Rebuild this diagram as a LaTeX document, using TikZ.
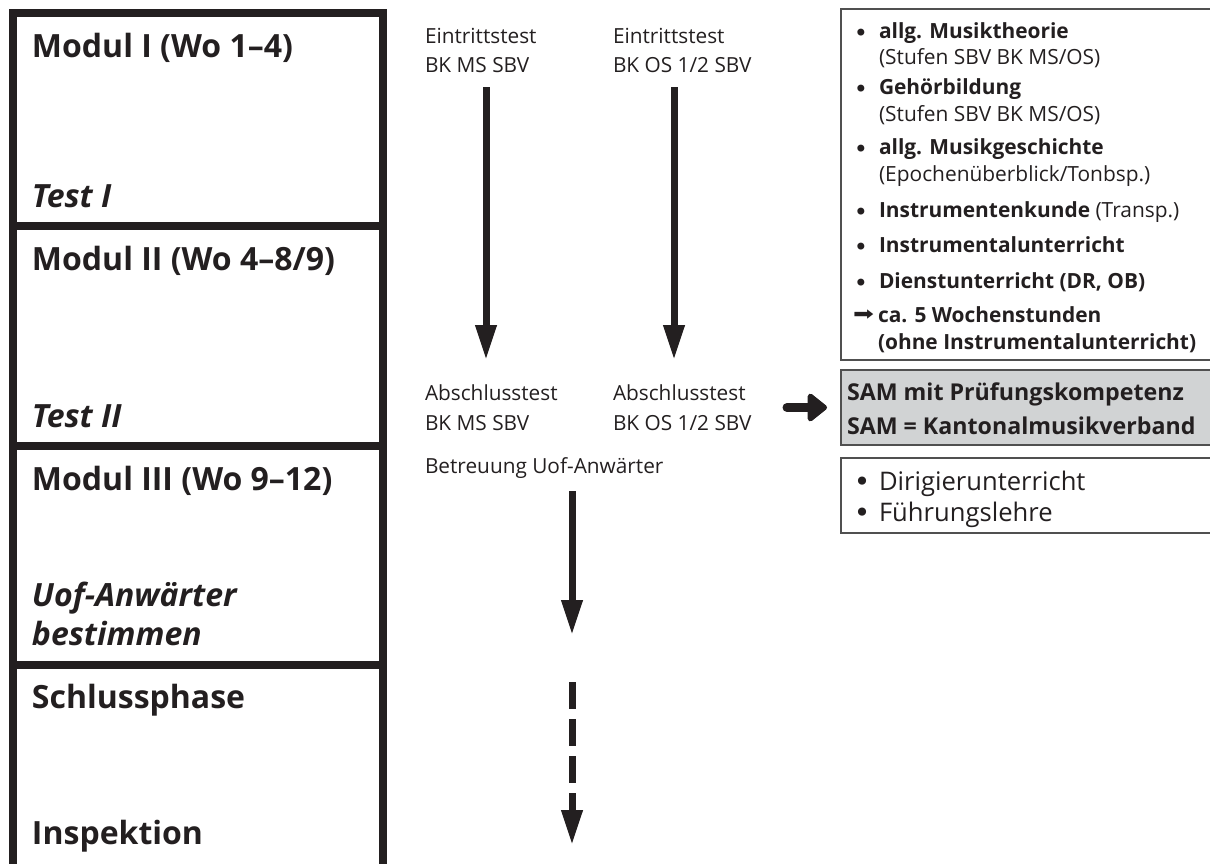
\documentclass[tikz,border=0pt]{standalone}
\usepackage{fontspec}
\usepackage{graphicx}
\setmainfont{Open Sans}
\newfontfamily\symfont{DejaVu Sans}
\usetikzlibrary{arrows.meta}

\definecolor{ink}{HTML}{231F20}
\definecolor{boxline}{HTML}{505050}
\definecolor{samgray}{HTML}{D1D3D4}

\begin{document}
\begin{tikzpicture}[x=0.5pt,y=-0.5pt,
  every node/.style={inner sep=0pt,outer sep=0pt,anchor=base west,text=ink},
  frame/.style={draw=ink,line width=4pt},
  head/.style={font=\fontsize{16}{19}\selectfont\bfseries},
  headit/.style={font=\fontsize{16}{19}\selectfont\bfseries\itshape},
  mid/.style={font=\fontsize{10.4}{13}\selectfont},
  lst/.style={font=\fontsize{10.45}{13}\selectfont},
  lstb/.style={font=\fontsize{10.45}{13}\selectfont\bfseries},
  dot/.style={anchor=base,font=\symfont\fontsize{12}{14}\selectfont},
  bigdot/.style={anchor=base,font=\symfont\fontsize{14}{16}\selectfont},
  samtxt/.style={font=\fontsize{11.6}{14}\selectfont\bfseries},
  dirtxt/.style={font=\fontsize{12.8}{15}\selectfont},
  panel/.style={draw=boxline,line width=0.9pt,anchor=north west,minimum width=190pt},
  flow/.style={draw=ink,line width=3.5pt,-{Triangle[width=10pt,length=17.5pt]}},
  bigarrow/.style={draw=ink,line width=4.5pt,line cap=round,-{Triangle[width=16pt,length=10.5pt,round]}}]

\useasboundingbox (0,0) rectangle (1210,863);

% ---------- left column: phases ----------
\draw[frame] (13,880) -- (13,13) -- (383,13) -- (383,880);
\draw[frame] (13,226) -- (383,226);
\draw[frame] (13,446) -- (383,446);
\draw[frame] (13,665) -- (383,665);

\node[head]   (m1)  at (32,57)  {Modul I (Wo 1–4)};
\node[headit] (t1)  at (32,207) {Test I};
\node[head]   (m2)  at (32,270) {Modul II (Wo 4–8/9)};
\node[headit] (t2)  at (32,427) {Test II};
\node[head]   (m3)  at (32,490) {Modul III (Wo 9–12)};
\node[headit] (u1)  at (32,606) {Uof-Anwärter};
\node[headit] (u2)  at (32,645) {bestimmen};
\node[head]   (s1)  at (32,708) {Schlussphase};
\node[head]   (ins) at (32,844) {Inspektion};

% ---------- middle: tests ----------
\node[mid] (ea1) at (425,43)  {Eintrittstest};
\node[mid] (ea2) at (425,72)  {BK MS SBV};
\node[mid] (eb1) at (613,43)  {Eintrittstest};
\node[mid] (eb2) at (613,72)  {BK OS 1/2 SBV};
\node[mid] (aa1) at (425,400) {Abschlusstest};
\node[mid] (aa2) at (425,430) {BK MS SBV};
\node[mid] (ab1) at (613,400) {Abschlusstest};
\node[mid] (ab2) at (613,430) {BK OS 1/2 SBV};
\node[mid] (bu)  at (425,473) {Betreuung Uof-Anwärter};

\coordinate (fa0) at (486,87);  \coordinate (fa1) at (486,360);
\coordinate (fb0) at (674,87);  \coordinate (fb1) at (674,360);
\coordinate (fc0) at (572,491); \coordinate (fc1) at (572,635);
\coordinate (fd0) at (572,682); \coordinate (fd1) at (572,845);

\draw[flow] (fa0) -- (fa1);
\draw[flow] (fb0) -- (fb1);
\draw[flow] (fc0) -- (fc1);
\draw[flow,dash pattern=on 13.5pt off 5pt] (fd0) -- (fd1);

% ---------- right: subject list ----------
\node[panel,minimum height=175.5pt] (subj) at (841,9) {};

\node[dot]  (bl1) at (861,41) {•};
\node[lstb] (l1)  at (879,38) {allg. Musiktheorie};
\node[lst]  (l2)  at (879,64) {(Stufen SBV BK MS/OS)};
\node[dot]  (bl2) at (861,97) {•};
\node[lstb] (l3)  at (879,94) {Gehörbildung};
\node[lst]  (l4)  at (879,121) {(Stufen SBV BK MS/OS)};
\node[dot]  (bl3) at (861,157) {•};
\node[lstb] (l5)  at (879,154) {allg. Musikgeschichte};
\node[lst]  (l6)  at (879,181) {(Epochenüberblick/Tonbsp.)};
\node[dot]  (bl4) at (861,220) {•};
\node[lst]  (l7)  at (879,217) {\textbf{Instrumentenkunde} (Transp.)};
\node[dot]  (bl5) at (861,255) {•};
\node[lstb] (l8)  at (879,252) {Instrumentalunterricht};
\node[dot]  (bl6) at (861,291) {•};
\node[lstb] (l9)  at (879,288) {Dienstunterricht (DR, OB)};
\node[font=\symfont\fontsize{10}{12}\selectfont] (ar) at (853,320) {\scalebox{1.25}[0.95]{➡}};
\node[lstb] (l10) at (878,322) {ca. 5 Wochenstunden};
\node[lstb] (l11) at (878,349) {(ohne Instrumentalunterricht)};

% ---------- right: examining body ----------
\node[panel,fill=samgray,minimum height=37.5pt] (sam) at (841,370) {};
\node[samtxt] (sa1) at (847,400) {SAM mit Prüfungskompetenz};
\node[samtxt] (sa2) at (847,434) {SAM = Kantonalmusikverband};
\draw[bigarrow] ([xshift=-27pt]sam.west) -- ([xshift=-7pt]sam.west);

% ---------- right: leadership subjects ----------
\node[panel,minimum height=37.5pt] (lead) at (841,458) {};
\node[bigdot] (bd1) at (862,491) {•};
\node[dirtxt] (d1)  at (879,490) {Dirigierunterricht};
\node[bigdot] (bd2) at (862,522) {•};
\node[dirtxt] (d2)  at (879,521) {Führungslehre};

\end{tikzpicture}
\end{document}
